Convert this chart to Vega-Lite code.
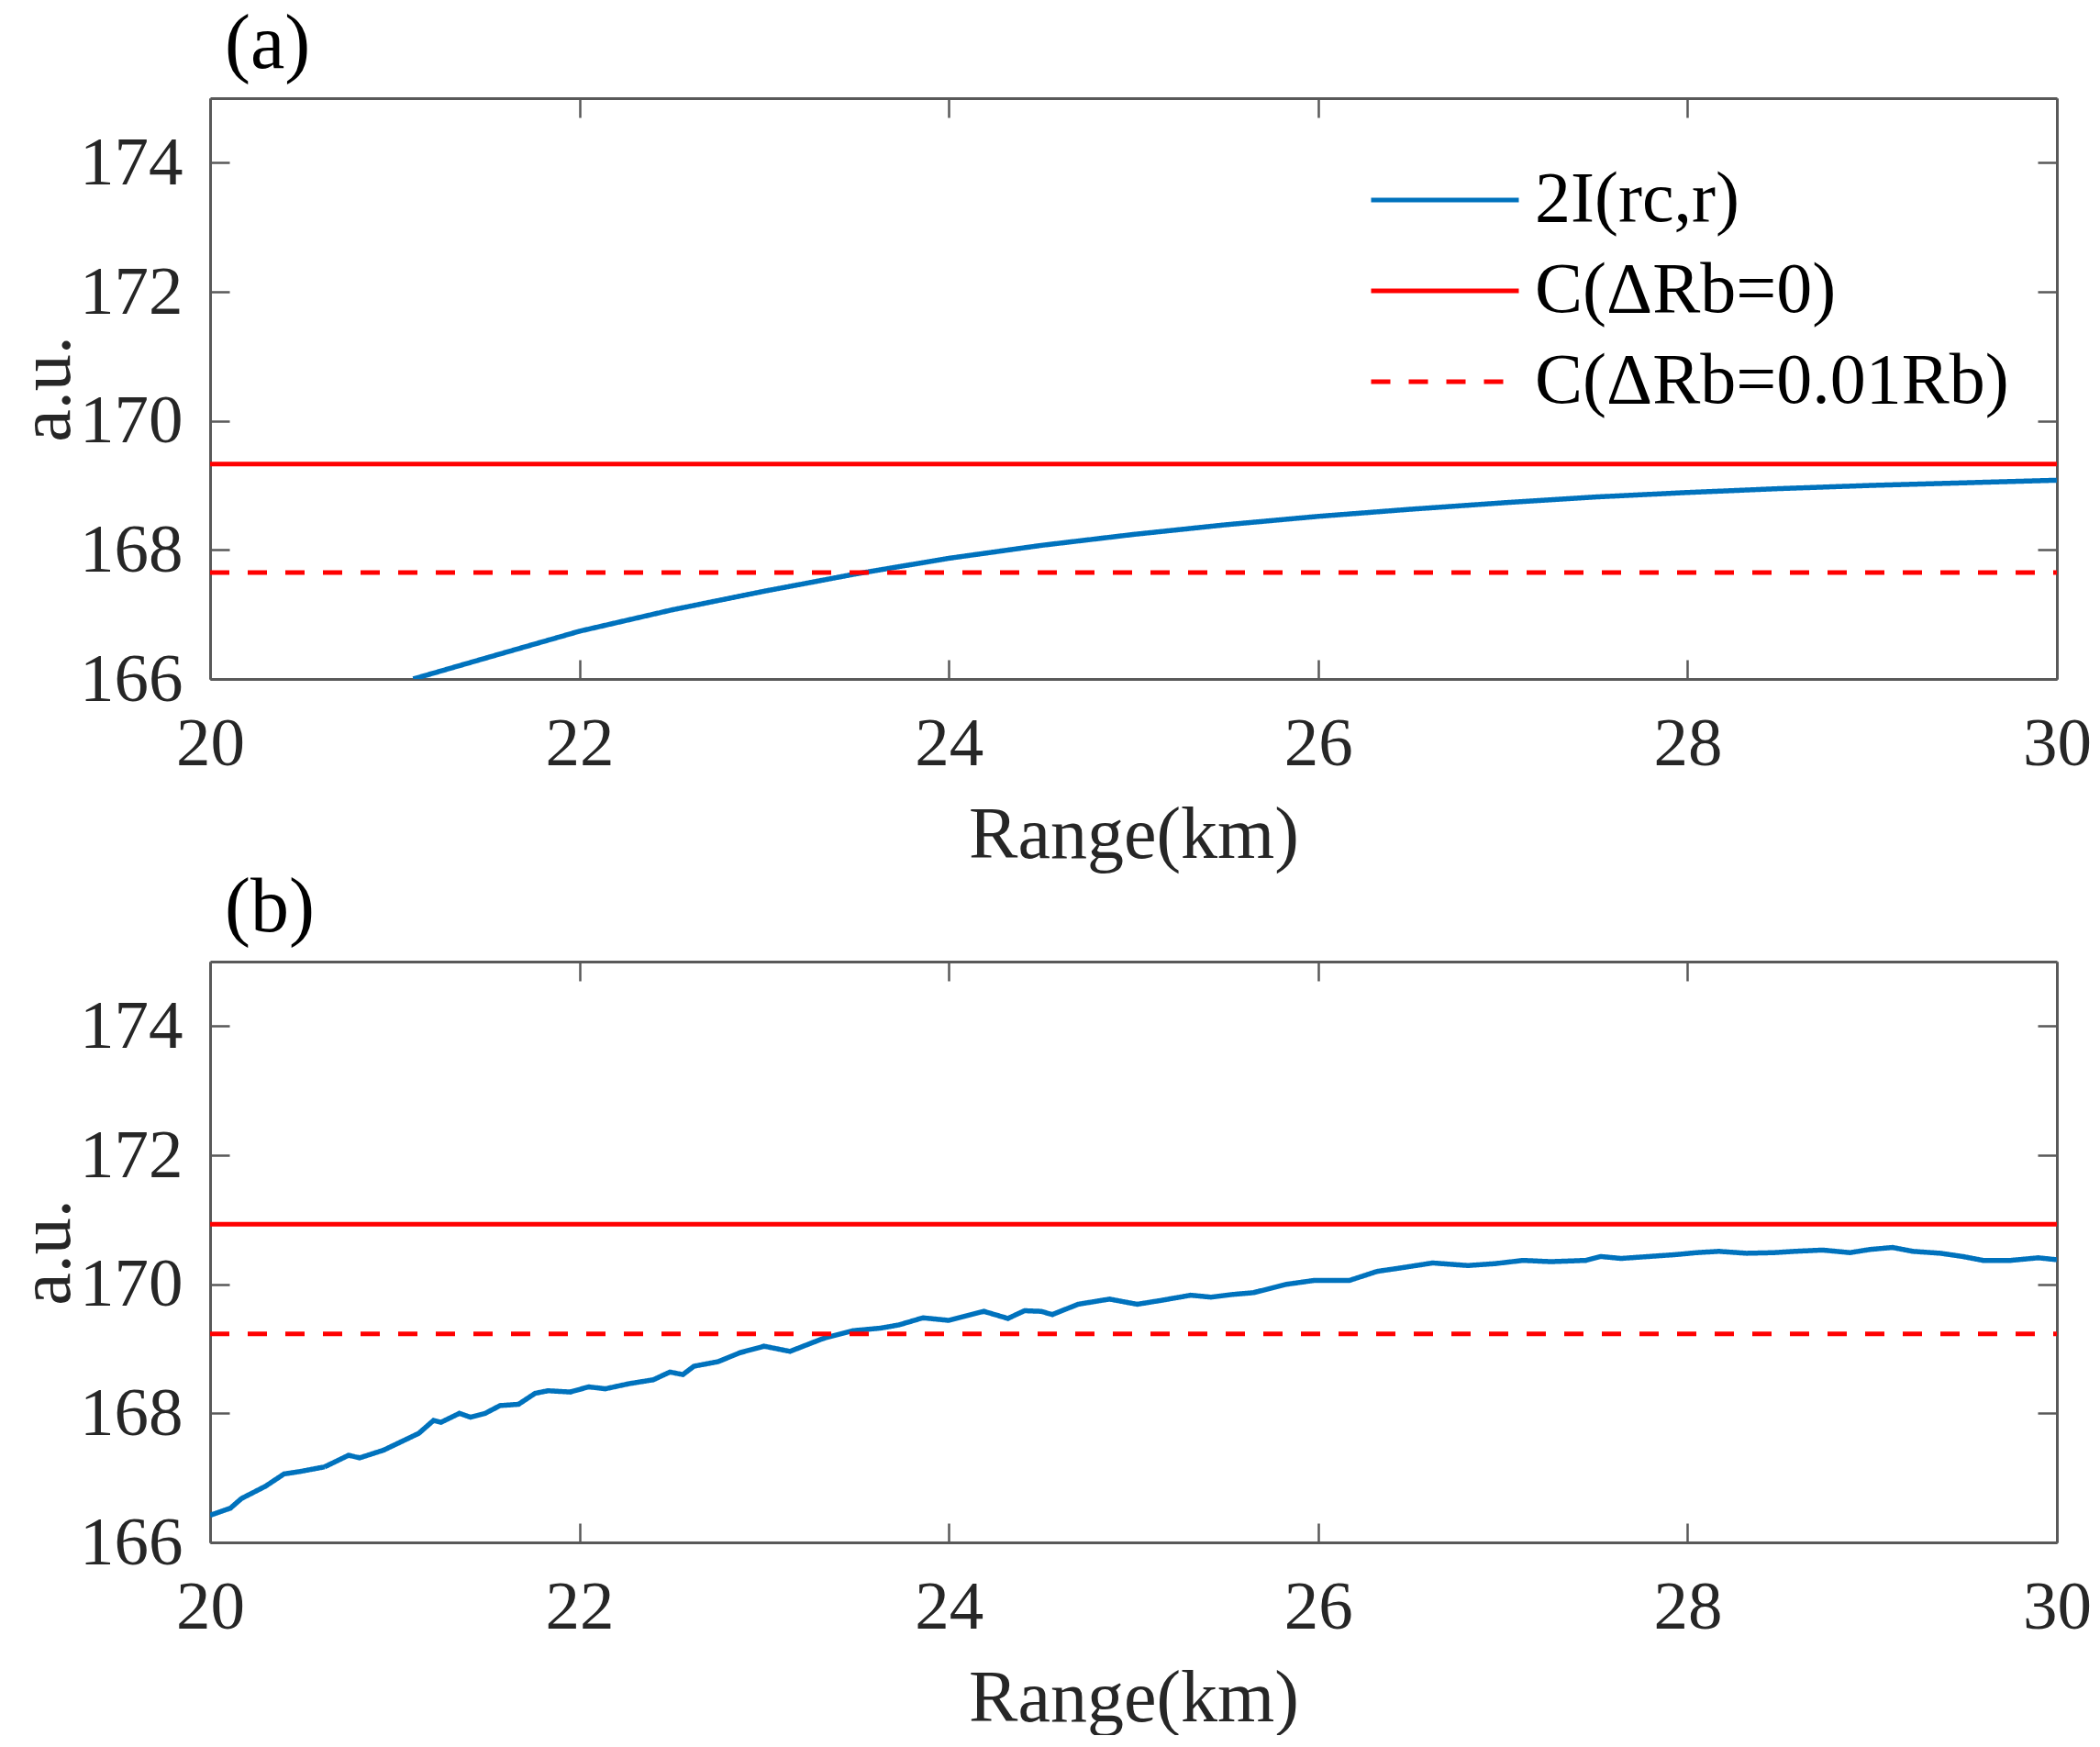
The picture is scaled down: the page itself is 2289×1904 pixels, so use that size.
{
  "$schema": "https://vega.github.io/schema/vega-lite/v6.json",
  "background": "white",
  "padding": {"left": 11, "top": 6, "right": 0, "bottom": 0},
  "spacing": -3,
  "config": {
    "font": "Liberation Serif",
    "view": {"stroke": null},
    "axis": {
      "grid": false,
      "domainColor": "#595959",
      "domainWidth": 3,
      "tickColor": "#595959",
      "tickWidth": 2.5,
      "tickSize": -21,
      "labelFont": "Liberation Serif",
      "labelFontSize": 75,
      "labelColor": "#262626",
      "labelFlush": false,
      "labelOverlap": false,
      "titleFont": "Liberation Serif",
      "titleFontSize": 80,
      "titleFontWeight": "normal",
      "titleColor": "#262626"
    }
  },
  "datasets": {
    "curveA": [
      {"range": 21.1, "value": 166.0, "series": "2I(rc,r)"},
      {"range": 21.5, "value": 166.33, "series": "2I(rc,r)"},
      {"range": 22.0, "value": 166.74, "series": "2I(rc,r)"},
      {"range": 22.5, "value": 167.07, "series": "2I(rc,r)"},
      {"range": 23.0, "value": 167.36, "series": "2I(rc,r)"},
      {"range": 23.5, "value": 167.63, "series": "2I(rc,r)"},
      {"range": 24.0, "value": 167.87, "series": "2I(rc,r)"},
      {"range": 24.5, "value": 168.07, "series": "2I(rc,r)"},
      {"range": 25.0, "value": 168.24, "series": "2I(rc,r)"},
      {"range": 25.5, "value": 168.39, "series": "2I(rc,r)"},
      {"range": 26.0, "value": 168.52, "series": "2I(rc,r)"},
      {"range": 26.5, "value": 168.63, "series": "2I(rc,r)"},
      {"range": 27.0, "value": 168.73, "series": "2I(rc,r)"},
      {"range": 27.5, "value": 168.82, "series": "2I(rc,r)"},
      {"range": 28.0, "value": 168.89, "series": "2I(rc,r)"},
      {"range": 28.5, "value": 168.95, "series": "2I(rc,r)"},
      {"range": 29.0, "value": 169.0, "series": "2I(rc,r)"},
      {"range": 29.5, "value": 169.04, "series": "2I(rc,r)"},
      {"range": 30.0, "value": 169.08, "series": "2I(rc,r)"}
    ],
    "levelsA": [
      {"x0": 20, "x1": 30, "level": 169.33, "series": "C(ΔRb=0)"},
      {"x0": 20, "x1": 30, "level": 167.65, "series": "C(ΔRb=0.01Rb)"}
    ],
    "curveB": [
      {"range": 20.0, "value": 166.42, "series": "2I(rc,r)"},
      {"range": 20.11, "value": 166.53, "series": "2I(rc,r)"},
      {"range": 20.17, "value": 166.68, "series": "2I(rc,r)"},
      {"range": 20.3, "value": 166.87, "series": "2I(rc,r)"},
      {"range": 20.4, "value": 167.06, "series": "2I(rc,r)"},
      {"range": 20.49, "value": 167.1, "series": "2I(rc,r)"},
      {"range": 20.62, "value": 167.17, "series": "2I(rc,r)"},
      {"range": 20.75, "value": 167.35, "series": "2I(rc,r)"},
      {"range": 20.81, "value": 167.31, "series": "2I(rc,r)"},
      {"range": 20.94, "value": 167.43, "series": "2I(rc,r)"},
      {"range": 21.13, "value": 167.69, "series": "2I(rc,r)"},
      {"range": 21.21, "value": 167.89, "series": "2I(rc,r)"},
      {"range": 21.25, "value": 167.86, "series": "2I(rc,r)"},
      {"range": 21.35, "value": 168.0, "series": "2I(rc,r)"},
      {"range": 21.41, "value": 167.94, "series": "2I(rc,r)"},
      {"range": 21.49, "value": 168.0, "series": "2I(rc,r)"},
      {"range": 21.57, "value": 168.12, "series": "2I(rc,r)"},
      {"range": 21.67, "value": 168.14, "series": "2I(rc,r)"},
      {"range": 21.76, "value": 168.31, "series": "2I(rc,r)"},
      {"range": 21.83, "value": 168.35, "series": "2I(rc,r)"},
      {"range": 21.95, "value": 168.33, "series": "2I(rc,r)"},
      {"range": 22.05, "value": 168.41, "series": "2I(rc,r)"},
      {"range": 22.14, "value": 168.38, "series": "2I(rc,r)"},
      {"range": 22.27, "value": 168.46, "series": "2I(rc,r)"},
      {"range": 22.4, "value": 168.52, "series": "2I(rc,r)"},
      {"range": 22.49, "value": 168.64, "series": "2I(rc,r)"},
      {"range": 22.56, "value": 168.6, "series": "2I(rc,r)"},
      {"range": 22.62, "value": 168.73, "series": "2I(rc,r)"},
      {"range": 22.75, "value": 168.8, "series": "2I(rc,r)"},
      {"range": 22.87, "value": 168.94, "series": "2I(rc,r)"},
      {"range": 23.0, "value": 169.04, "series": "2I(rc,r)"},
      {"range": 23.14, "value": 168.96, "series": "2I(rc,r)"},
      {"range": 23.32, "value": 169.16, "series": "2I(rc,r)"},
      {"range": 23.48, "value": 169.28, "series": "2I(rc,r)"},
      {"range": 23.63, "value": 169.32, "series": "2I(rc,r)"},
      {"range": 23.73, "value": 169.37, "series": "2I(rc,r)"},
      {"range": 23.86, "value": 169.48, "series": "2I(rc,r)"},
      {"range": 24.0, "value": 169.44, "series": "2I(rc,r)"},
      {"range": 24.08, "value": 169.5, "series": "2I(rc,r)"},
      {"range": 24.19, "value": 169.58, "series": "2I(rc,r)"},
      {"range": 24.32, "value": 169.47, "series": "2I(rc,r)"},
      {"range": 24.41, "value": 169.59, "series": "2I(rc,r)"},
      {"range": 24.5, "value": 169.58, "series": "2I(rc,r)"},
      {"range": 24.56, "value": 169.53, "series": "2I(rc,r)"},
      {"range": 24.7, "value": 169.69, "series": "2I(rc,r)"},
      {"range": 24.87, "value": 169.77, "series": "2I(rc,r)"},
      {"range": 25.02, "value": 169.69, "series": "2I(rc,r)"},
      {"range": 25.15, "value": 169.75, "series": "2I(rc,r)"},
      {"range": 25.31, "value": 169.83, "series": "2I(rc,r)"},
      {"range": 25.42, "value": 169.8, "series": "2I(rc,r)"},
      {"range": 25.53, "value": 169.84, "series": "2I(rc,r)"},
      {"range": 25.65, "value": 169.87, "series": "2I(rc,r)"},
      {"range": 25.76, "value": 169.95, "series": "2I(rc,r)"},
      {"range": 25.83, "value": 170.0, "series": "2I(rc,r)"},
      {"range": 25.98, "value": 170.06, "series": "2I(rc,r)"},
      {"range": 26.17, "value": 170.06, "series": "2I(rc,r)"},
      {"range": 26.32, "value": 170.2, "series": "2I(rc,r)"},
      {"range": 26.44, "value": 170.25, "series": "2I(rc,r)"},
      {"range": 26.62, "value": 170.33, "series": "2I(rc,r)"},
      {"range": 26.81, "value": 170.29, "series": "2I(rc,r)"},
      {"range": 26.96, "value": 170.32, "series": "2I(rc,r)"},
      {"range": 27.11, "value": 170.37, "series": "2I(rc,r)"},
      {"range": 27.26, "value": 170.35, "series": "2I(rc,r)"},
      {"range": 27.45, "value": 170.37, "series": "2I(rc,r)"},
      {"range": 27.53, "value": 170.43, "series": "2I(rc,r)"},
      {"range": 27.64, "value": 170.4, "series": "2I(rc,r)"},
      {"range": 27.79, "value": 170.43, "series": "2I(rc,r)"},
      {"range": 27.94, "value": 170.46, "series": "2I(rc,r)"},
      {"range": 28.05, "value": 170.49, "series": "2I(rc,r)"},
      {"range": 28.17, "value": 170.51, "series": "2I(rc,r)"},
      {"range": 28.32, "value": 170.48, "series": "2I(rc,r)"},
      {"range": 28.47, "value": 170.49, "series": "2I(rc,r)"},
      {"range": 28.58, "value": 170.51, "series": "2I(rc,r)"},
      {"range": 28.73, "value": 170.53, "series": "2I(rc,r)"},
      {"range": 28.88, "value": 170.49, "series": "2I(rc,r)"},
      {"range": 28.99, "value": 170.54, "series": "2I(rc,r)"},
      {"range": 29.11, "value": 170.57, "series": "2I(rc,r)"},
      {"range": 29.22, "value": 170.51, "series": "2I(rc,r)"},
      {"range": 29.37, "value": 170.48, "series": "2I(rc,r)"},
      {"range": 29.49, "value": 170.43, "series": "2I(rc,r)"},
      {"range": 29.6, "value": 170.37, "series": "2I(rc,r)"},
      {"range": 29.75, "value": 170.37, "series": "2I(rc,r)"},
      {"range": 29.9, "value": 170.41, "series": "2I(rc,r)"},
      {"range": 30.0, "value": 170.38, "series": "2I(rc,r)"}
    ],
    "levelsB": [
      {"x0": 20, "x1": 30, "level": 170.93, "series": "C(ΔRb=0)"},
      {"x0": 20, "x1": 30, "level": 169.23, "series": "C(ΔRb=0.01Rb)"}
    ]
  },
  "resolve": {
    "scale": {"color": "independent", "strokeDash": "independent"},
    "legend": {"color": "independent", "strokeDash": "independent"}
  },
  "vconcat": [
    {
      "title": {"text": "(a)", "anchor": "start", "frame": "group", "dx": 16, "offset": 14, "fontSize": 84, "fontWeight": "normal", "font": "Liberation Serif", "color": "#000000"},
      "width": 2013,
      "height": 633,
      "resolve": {"axis": {"x": "independent", "y": "independent"}},
      "layer": [
        {
          "data": {"name": "curveA"},
          "mark": {"type": "line", "strokeWidth": 5.5, "clip": true},
          "encoding": {
            "x": {"field": "range", "type": "quantitative",
              "scale": {"domain": [20, 30], "nice": false, "zero": false},
              "axis": {"orient": "bottom", "values": [20, 22, 24, 26, 28, 30], "title": "Range(km)", "labelPadding": 55, "titlePadding": 23}},
            "y": {"field": "value", "type": "quantitative",
              "scale": {"domain": [166, 175], "nice": false, "zero": false},
              "axis": {"orient": "left", "values": [166, 168, 170, 172, 174], "title": "a.u.", "labelPadding": 51, "titlePadding": -6}},
            "color": {"field": "series", "type": "nominal",
              "scale": {"domain": ["2I(rc,r)", "C(ΔRb=0)", "C(ΔRb=0.01Rb)"], "range": ["#0072BD", "#FF0000", "#FF0000"]},
              "legend": {"title": null, "orient": "none", "legendX": 1303, "legendY": 68, "padding": 0, "symbolType": "M-2,0H2", "symbolSize": 6480, "symbolStrokeWidth": 5, "rowPadding": 17, "labelOffset": 55, "labelFont": "Liberation Serif", "labelFontSize": 78, "labelColor": "#000000", "labelLimit": 0}},
            "strokeDash": {"field": "series", "type": "nominal",
              "scale": {"domain": ["2I(rc,r)", "C(ΔRb=0)", "C(ΔRb=0.01Rb)"], "range": [[1, 0], [1, 0], [21, 20]]},
              "legend": {"title": null, "orient": "none", "legendX": 1303, "legendY": 68, "padding": 0, "symbolType": "M-2,0H2", "symbolSize": 6480, "symbolStrokeWidth": 5, "rowPadding": 17, "labelOffset": 55, "labelFont": "Liberation Serif", "labelFontSize": 78, "labelColor": "#000000", "labelLimit": 0}}
          }
        },
        {
          "data": {"name": "levelsA"},
          "mark": {"type": "rule", "strokeWidth": 5},
          "encoding": {
            "x": {"field": "x0", "type": "quantitative",
              "scale": {"domain": [20, 30], "nice": false, "zero": false},
              "axis": {"orient": "top", "values": [20, 22, 24, 26, 28, 30], "labels": false, "title": null}},
            "x2": {"field": "x1"},
            "y": {"field": "level", "type": "quantitative",
              "scale": {"domain": [166, 175], "nice": false, "zero": false},
              "axis": {"orient": "right", "values": [166, 168, 170, 172, 174], "labels": false, "title": null}},
            "color": {"field": "series", "type": "nominal"},
            "strokeDash": {"field": "series", "type": "nominal"}
          }
        }
      ]
    },
    {
      "title": {"text": "(b)", "anchor": "start", "frame": "group", "dx": 16, "offset": 14, "fontSize": 84, "fontWeight": "normal", "font": "Liberation Serif", "color": "#000000"},
      "width": 2013,
      "height": 633,
      "resolve": {"axis": {"x": "independent", "y": "independent"}},
      "layer": [
        {
          "data": {"name": "curveB"},
          "mark": {"type": "line", "strokeWidth": 5.5, "clip": true},
          "encoding": {
            "x": {"field": "range", "type": "quantitative",
              "scale": {"domain": [20, 30], "nice": false, "zero": false},
              "axis": {"orient": "bottom", "values": [20, 22, 24, 26, 28, 30], "title": "Range(km)", "labelPadding": 55, "titlePadding": 23}},
            "y": {"field": "value", "type": "quantitative",
              "scale": {"domain": [166, 175], "nice": false, "zero": false},
              "axis": {"orient": "left", "values": [166, 168, 170, 172, 174], "title": "a.u.", "labelPadding": 51, "titlePadding": -6}},
            "color": {"field": "series", "type": "nominal",
              "scale": {"domain": ["2I(rc,r)", "C(ΔRb=0)", "C(ΔRb=0.01Rb)"], "range": ["#0072BD", "#FF0000", "#FF0000"]},
              "legend": null},
            "strokeDash": {"field": "series", "type": "nominal",
              "scale": {"domain": ["2I(rc,r)", "C(ΔRb=0)", "C(ΔRb=0.01Rb)"], "range": [[1, 0], [1, 0], [21, 20]]},
              "legend": null}
          }
        },
        {
          "data": {"name": "levelsB"},
          "mark": {"type": "rule", "strokeWidth": 5},
          "encoding": {
            "x": {"field": "x0", "type": "quantitative",
              "scale": {"domain": [20, 30], "nice": false, "zero": false},
              "axis": {"orient": "top", "values": [20, 22, 24, 26, 28, 30], "labels": false, "title": null}},
            "x2": {"field": "x1"},
            "y": {"field": "level", "type": "quantitative",
              "scale": {"domain": [166, 175], "nice": false, "zero": false},
              "axis": {"orient": "right", "values": [166, 168, 170, 172, 174], "labels": false, "title": null}},
            "color": {"field": "series", "type": "nominal", "legend": null},
            "strokeDash": {"field": "series", "type": "nominal", "legend": null}
          }
        }
      ]
    }
  ]
}
